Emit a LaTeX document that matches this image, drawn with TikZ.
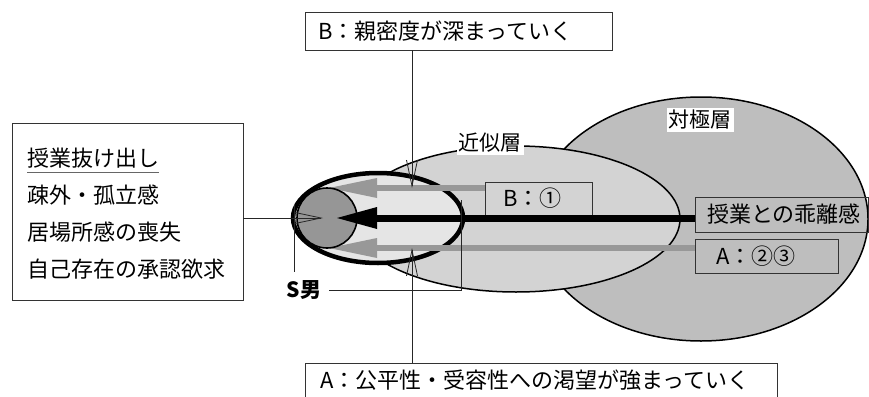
\documentclass[tikz,border=0pt]{standalone}
\usepackage{fontspec}
\setmainfont{Noto Sans CJK JP}
\usetikzlibrary{shapes.geometric,arrows.meta}
\definecolor{outerc}{RGB}{190,190,190}
\definecolor{midc}{RGB}{211,211,211}
\definecolor{innerc}{RGB}{229,229,229}
\definecolor{circc}{RGB}{150,150,150}
\definecolor{grayarr}{RGB}{152,152,152}
\begin{document}
\begin{tikzpicture}[x=1pt,y=-1pt,
  box/.style={draw=black!80, line width=0.8pt, inner sep=0pt},
  jp/.style={font=\fontsize{22pt}{26pt}\selectfont, inner sep=0pt},
  lbl/.style={font=\fontsize{21pt}{25pt}\selectfont, fill=white, inner sep=2pt},
  thinl/.style={line width=0.8pt, draw=black!85},
  barb/.style={-{Straight Barb[length=26pt,width=11pt]}},
  grayshaft/.style={line width=6.5pt, draw=grayarr},
  blackshaft/.style={line width=7pt, draw=black},
]
\useasboundingbox (0,0) rectangle (869,396);
\clip (0,0) rectangle (869,396);

% layers
\node[ellipse, draw, line width=1.5pt, fill=outerc, minimum width=334pt, minimum height=244pt, inner sep=0pt] (outer) at (701,219) {};
\node[ellipse, draw, line width=1.5pt, fill=midc, minimum width=328pt, minimum height=146pt, inner sep=0pt] (mid) at (516,219) {};
\node[lbl] (outerlbl) at (700,120) {対極層};
\node[lbl] (midlbl) at (490,143) {近似層};

% right boxes
\node[box, minimum width=107pt, minimum height=33pt] (b1) at (538.5,198.5) {};
\node[jp, anchor=west] (b1t) at (503,198.5) {B：①};
\node[box, minimum width=173pt, minimum height=35pt] (kairi) at (781.5,214.5) {};
\node[jp, anchor=west] (kairit) at (707,214.5) {授業との乖離感};
\node[box, minimum width=143pt, minimum height=34pt] (a23) at (766.5,256) {};
\node[jp, anchor=west] (a23t) at (716,256) {A：②③};

% inner ellipse (S男)
\node[ellipse, draw, line width=4.5pt, fill=innerc, minimum width=170pt, minimum height=90pt, inner sep=0pt] (inner) at (378,218) {};

% arrows
\coordinate (uA) at (377,188);
\coordinate (lA) at (377,248);
\coordinate (bA) at (377,218);
\draw[grayshaft] (b1.west |- uA) -- (uA);
\fill[grayarr] (377,178) -- (329,188) -- (377,198) -- cycle;
\draw[grayshaft] (a23.west |- lA) -- (lA);
\fill[grayarr] (377,238) -- (329,248) -- (377,258) -- cycle;

\node[circle, draw, line width=1.6pt, fill=circc, minimum size=60pt, inner sep=0pt] (sman) at (327,218) {};

\draw[blackshaft] (kairi.west |- bA) -- (bA);
\fill[black] (377,207) -- (337,218) -- (377,229) -- cycle;

% top and bottom boxes
\node[box, minimum width=307pt, minimum height=38pt] (topbox) at (458.5,31) {};
\node[jp, anchor=west] (topt) at (318,31) {B：親密度が深まっていく};
\node[box, minimum width=472pt, minimum height=38pt] (botbox) at (541,382) {};
\node[jp, anchor=west] (bott) at (320,380) {A：公平性・受容性への渇望が強まっていく};

\coordinate (tB) at (412,188);
\coordinate (tA) at (412,248);
\draw[thinl, barb] (topbox.south -| tB) -- (tB);
\draw[thinl, barb] (botbox.north -| tA) -- (tA);

% left box
\node[box, minimum width=231pt, minimum height=177pt] (leftbox) at (127.5,211.5) {};
\node[jp, anchor=west] (t1) at (27,158) {授業抜け出し};
\draw[line width=0.8pt, draw=black!60] (t1.west |- 0,172) -- (t1.east |- 0,172);
\node[jp, anchor=west] (t2) at (27,195) {疎外・孤立感};
\node[jp, anchor=west] (t3) at (27,232) {居場所感の喪失};
\node[jp, anchor=west] (t4) at (27,269) {自己存在の承認欲求};
\coordinate (lt) at (323,218);
\draw[thinl, barb] (leftbox.east |- lt) -- (lt);

% S男 label and bracket
\node[font=\fontsize{21pt}{25pt}\selectfont\bfseries, inner sep=2pt] (slabel) at (304,290) {S男};
\coordinate (sl1) at (294,205);
\coordinate (sl2) at (294,272);
\coordinate (sr1) at (461,200);
\coordinate (sr2) at (461,290);
\draw[thinl] (sl1) -- (sl2);
\draw[thinl] ([xshift=6pt]slabel.east) -- (sr2) -- (sr1);
\end{tikzpicture}
\end{document}
